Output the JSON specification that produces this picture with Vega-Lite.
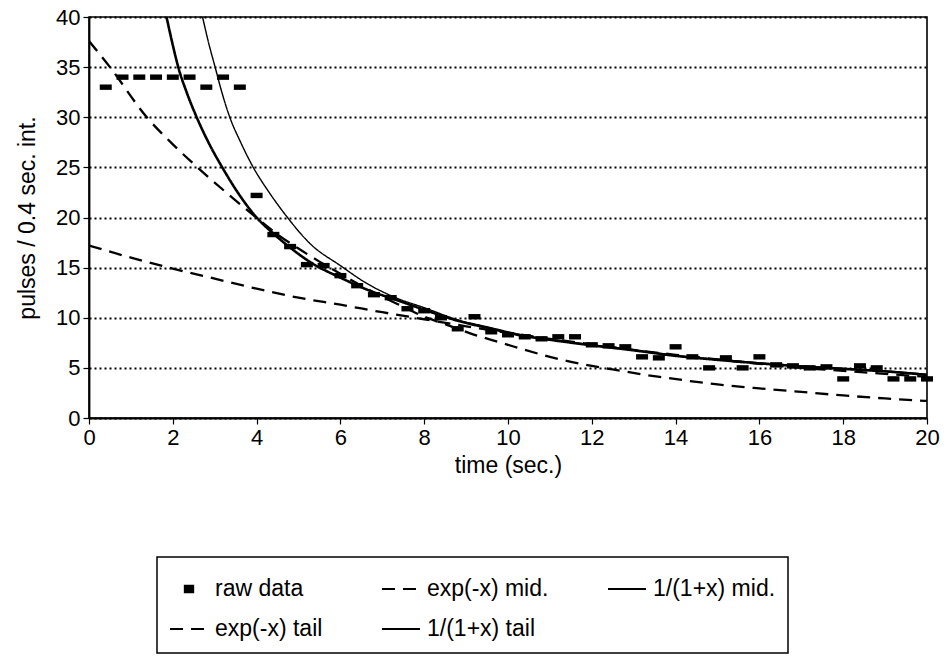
{
  "$schema": "https://vega.github.io/schema/vega-lite/v6.json",
  "width": 838,
  "height": 401,
  "autosize": {"type": "none"},
  "padding": {"left": 89, "top": 17, "right": 21, "bottom": 239},
  "background": "white",
  "config": {
    "font": "Liberation Sans",
    "view": {"stroke": "black", "strokeWidth": 1.6},
    "axis": {
      "domainColor": "black", "domainWidth": 1.8, "tickColor": "black", "tickWidth": 1.2,
      "labelColor": "black", "titleColor": "black", "labelFont": "Liberation Sans", "titleFont": "Liberation Sans",
      "labelFontSize": 22, "titleFontSize": 23, "titleFontWeight": "normal"
    }
  },
  "datasets": {
    "curves": [
      {"series": "exp(-x) mid.", "t": 0, "v": 37.6},
      {"series": "exp(-x) mid.", "t": 0.5, "v": 35.0},
      {"series": "exp(-x) mid.", "t": 1.38, "v": 30.0},
      {"series": "exp(-x) mid.", "t": 2.0, "v": 27.3},
      {"series": "exp(-x) mid.", "t": 2.59, "v": 25.0},
      {"series": "exp(-x) mid.", "t": 3.3, "v": 22.4},
      {"series": "exp(-x) mid.", "t": 3.99, "v": 20.0},
      {"series": "exp(-x) mid.", "t": 4.5, "v": 18.3},
      {"series": "exp(-x) mid.", "t": 5.0, "v": 16.9},
      {"series": "exp(-x) mid.", "t": 5.5, "v": 15.6},
      {"series": "exp(-x) mid.", "t": 6.0, "v": 14.4},
      {"series": "exp(-x) mid.", "t": 6.5, "v": 13.2},
      {"series": "exp(-x) mid.", "t": 7.0, "v": 12.1},
      {"series": "exp(-x) mid.", "t": 7.5, "v": 11.1},
      {"series": "exp(-x) mid.", "t": 8.0, "v": 10.1},
      {"series": "exp(-x) mid.", "t": 8.4, "v": 9.5},
      {"series": "exp(-x) mid.", "t": 8.8, "v": 8.9},
      {"series": "exp(-x) mid.", "t": 9.2, "v": 8.3},
      {"series": "exp(-x) mid.", "t": 9.6, "v": 7.8},
      {"series": "exp(-x) mid.", "t": 10.0, "v": 7.3},
      {"series": "exp(-x) mid.", "t": 10.4, "v": 6.8},
      {"series": "exp(-x) mid.", "t": 11.0, "v": 6.1},
      {"series": "exp(-x) mid.", "t": 11.4, "v": 5.7},
      {"series": "exp(-x) mid.", "t": 12.0, "v": 5.2},
      {"series": "exp(-x) mid.", "t": 12.7, "v": 4.7},
      {"series": "exp(-x) mid.", "t": 13.2, "v": 4.35},
      {"series": "exp(-x) mid.", "t": 13.8, "v": 4.0},
      {"series": "exp(-x) mid.", "t": 14.5, "v": 3.6},
      {"series": "exp(-x) mid.", "t": 15.0, "v": 3.35},
      {"series": "exp(-x) mid.", "t": 16.0, "v": 2.95},
      {"series": "exp(-x) mid.", "t": 17.0, "v": 2.6},
      {"series": "exp(-x) mid.", "t": 18.0, "v": 2.25},
      {"series": "exp(-x) mid.", "t": 19.0, "v": 1.95},
      {"series": "exp(-x) mid.", "t": 20.0, "v": 1.7},

      {"series": "exp(-x) tail", "t": 0, "v": 17.2},
      {"series": "exp(-x) tail", "t": 1, "v": 16.0},
      {"series": "exp(-x) tail", "t": 2, "v": 14.9},
      {"series": "exp(-x) tail", "t": 3, "v": 13.9},
      {"series": "exp(-x) tail", "t": 4, "v": 12.9},
      {"series": "exp(-x) tail", "t": 5, "v": 12.0},
      {"series": "exp(-x) tail", "t": 6, "v": 11.3},
      {"series": "exp(-x) tail", "t": 7, "v": 10.55},
      {"series": "exp(-x) tail", "t": 8, "v": 9.85},
      {"series": "exp(-x) tail", "t": 9, "v": 9.15},
      {"series": "exp(-x) tail", "t": 10, "v": 8.5},
      {"series": "exp(-x) tail", "t": 11, "v": 7.9},
      {"series": "exp(-x) tail", "t": 12, "v": 7.35},
      {"series": "exp(-x) tail", "t": 13, "v": 6.8},
      {"series": "exp(-x) tail", "t": 14, "v": 6.3},
      {"series": "exp(-x) tail", "t": 15, "v": 5.85},
      {"series": "exp(-x) tail", "t": 16, "v": 5.4},
      {"series": "exp(-x) tail", "t": 17, "v": 5.0},
      {"series": "exp(-x) tail", "t": 18, "v": 4.7},
      {"series": "exp(-x) tail", "t": 19, "v": 4.4},
      {"series": "exp(-x) tail", "t": 20, "v": 4.1},

      {"series": "1/(1+x) mid.", "t": 1.85, "v": 40},
      {"series": "1/(1+x) mid.", "t": 2.0, "v": 37.2},
      {"series": "1/(1+x) mid.", "t": 2.13, "v": 35},
      {"series": "1/(1+x) mid.", "t": 2.33, "v": 32.5},
      {"series": "1/(1+x) mid.", "t": 2.57, "v": 30},
      {"series": "1/(1+x) mid.", "t": 2.85, "v": 27.5},
      {"series": "1/(1+x) mid.", "t": 3.18, "v": 25},
      {"series": "1/(1+x) mid.", "t": 3.55, "v": 22.5},
      {"series": "1/(1+x) mid.", "t": 4.0, "v": 20},
      {"series": "1/(1+x) mid.", "t": 4.4, "v": 18.4},
      {"series": "1/(1+x) mid.", "t": 4.8, "v": 17.0},
      {"series": "1/(1+x) mid.", "t": 5.3, "v": 15.5},
      {"series": "1/(1+x) mid.", "t": 6.0, "v": 14.0},
      {"series": "1/(1+x) mid.", "t": 6.7, "v": 12.7},
      {"series": "1/(1+x) mid.", "t": 7.32, "v": 11.8},
      {"series": "1/(1+x) mid.", "t": 8.0, "v": 10.8},
      {"series": "1/(1+x) mid.", "t": 8.8, "v": 9.7},
      {"series": "1/(1+x) mid.", "t": 9.6, "v": 8.9},
      {"series": "1/(1+x) mid.", "t": 10.0, "v": 8.5},
      {"series": "1/(1+x) mid.", "t": 10.5, "v": 8.1},
      {"series": "1/(1+x) mid.", "t": 11.0, "v": 7.8},
      {"series": "1/(1+x) mid.", "t": 12.0, "v": 7.25},
      {"series": "1/(1+x) mid.", "t": 13.0, "v": 6.75},
      {"series": "1/(1+x) mid.", "t": 14.0, "v": 6.2},
      {"series": "1/(1+x) mid.", "t": 15.0, "v": 5.8},
      {"series": "1/(1+x) mid.", "t": 16.0, "v": 5.45},
      {"series": "1/(1+x) mid.", "t": 17.0, "v": 5.15},
      {"series": "1/(1+x) mid.", "t": 18.0, "v": 4.9},
      {"series": "1/(1+x) mid.", "t": 19.0, "v": 4.65},
      {"series": "1/(1+x) mid.", "t": 20.0, "v": 4.3},

      {"series": "1/(1+x) tail", "t": 2.71, "v": 40},
      {"series": "1/(1+x) tail", "t": 2.85, "v": 37.5},
      {"series": "1/(1+x) tail", "t": 3.01, "v": 35},
      {"series": "1/(1+x) tail", "t": 3.17, "v": 32.5},
      {"series": "1/(1+x) tail", "t": 3.36, "v": 30},
      {"series": "1/(1+x) tail", "t": 3.62, "v": 27.5},
      {"series": "1/(1+x) tail", "t": 3.92, "v": 25},
      {"series": "1/(1+x) tail", "t": 4.3, "v": 22.5},
      {"series": "1/(1+x) tail", "t": 4.7, "v": 20.2},
      {"series": "1/(1+x) tail", "t": 5.3, "v": 17.3},
      {"series": "1/(1+x) tail", "t": 6.0, "v": 15.2},
      {"series": "1/(1+x) tail", "t": 6.6, "v": 13.5},
      {"series": "1/(1+x) tail", "t": 7.32, "v": 12.0},
      {"series": "1/(1+x) tail", "t": 8.0, "v": 11.0},
      {"series": "1/(1+x) tail", "t": 8.8, "v": 9.8},
      {"series": "1/(1+x) tail", "t": 9.6, "v": 9.0},
      {"series": "1/(1+x) tail", "t": 10.0, "v": 8.6},
      {"series": "1/(1+x) tail", "t": 10.5, "v": 8.15},
      {"series": "1/(1+x) tail", "t": 11.0, "v": 7.85},
      {"series": "1/(1+x) tail", "t": 12.0, "v": 7.3},
      {"series": "1/(1+x) tail", "t": 13.0, "v": 6.8},
      {"series": "1/(1+x) tail", "t": 14.0, "v": 6.25},
      {"series": "1/(1+x) tail", "t": 15.0, "v": 5.85},
      {"series": "1/(1+x) tail", "t": 16.0, "v": 5.5},
      {"series": "1/(1+x) tail", "t": 17.0, "v": 5.2},
      {"series": "1/(1+x) tail", "t": 18.0, "v": 4.95},
      {"series": "1/(1+x) tail", "t": 19.0, "v": 4.7},
      {"series": "1/(1+x) tail", "t": 20.0, "v": 4.35}
    ],
    "raw": [
      {"t": 0.4, "v": 33}, {"t": 0.8, "v": 34}, {"t": 1.2, "v": 34}, {"t": 1.6, "v": 34},
      {"t": 2.0, "v": 34}, {"t": 2.4, "v": 34}, {"t": 2.8, "v": 33}, {"t": 3.2, "v": 34},
      {"t": 3.6, "v": 33}, {"t": 4.0, "v": 22.2}, {"t": 4.4, "v": 18.3}, {"t": 4.8, "v": 17.1},
      {"t": 5.2, "v": 15.3}, {"t": 5.6, "v": 15.2}, {"t": 6.0, "v": 14.2}, {"t": 6.4, "v": 13.2},
      {"t": 6.8, "v": 12.3}, {"t": 7.2, "v": 12.0}, {"t": 7.6, "v": 10.9}, {"t": 8.0, "v": 10.7},
      {"t": 8.4, "v": 10.0}, {"t": 8.8, "v": 8.9}, {"t": 9.2, "v": 10.1}, {"t": 9.6, "v": 8.6},
      {"t": 10.0, "v": 8.3}, {"t": 10.4, "v": 8.1}, {"t": 10.8, "v": 7.9}, {"t": 11.2, "v": 8.1},
      {"t": 11.6, "v": 8.1}, {"t": 12.0, "v": 7.3}, {"t": 12.4, "v": 7.2}, {"t": 12.8, "v": 7.1},
      {"t": 13.2, "v": 6.1}, {"t": 13.6, "v": 6.0}, {"t": 14.0, "v": 7.1}, {"t": 14.4, "v": 6.1},
      {"t": 14.8, "v": 5.0}, {"t": 15.2, "v": 6.0}, {"t": 15.6, "v": 5.0}, {"t": 16.0, "v": 6.1},
      {"t": 16.4, "v": 5.3}, {"t": 16.8, "v": 5.2}, {"t": 17.2, "v": 5.0}, {"t": 17.6, "v": 5.1},
      {"t": 18.0, "v": 3.9}, {"t": 18.4, "v": 5.2}, {"t": 18.8, "v": 5.0}, {"t": 19.2, "v": 3.9},
      {"t": 19.6, "v": 3.9}, {"t": 20.0, "v": 3.9}
    ]
  },
  "encoding": {
    "x": {
      "field": "t", "type": "quantitative",
      "scale": {"domain": [0, 20], "nice": false},
      "axis": {"values": [0, 2, 4, 6, 8, 10, 12, 14, 16, 18, 20], "grid": false, "tickSize": 6, "labelPadding": 3, "labelFlush": false, "title": "time (sec.)", "titlePadding": 6}
    },
    "y": {
      "field": "v", "type": "quantitative",
      "scale": {"domain": [0, 40], "nice": false},
      "axis": {"values": [0, 5, 10, 15, 20, 25, 30, 35, 40], "grid": true, "gridDash": [2, 3], "gridWidth": 2, "gridColor": "black", "gridOpacity": 1, "tickSize": 6, "labelPadding": 3, "title": "pulses / 0.4 sec. int.", "titlePadding": 16}
    }
  },
  "layer": [
    {
      "data": {"name": "curves"},
      "transform": [{"filter": "datum.series === 'exp(-x) mid.' || datum.series === 'exp(-x) tail'"}],
      "mark": {"type": "line", "interpolate": "monotone", "clip": true, "color": "black", "strokeWidth": 2.3},
      "encoding": {
        "detail": {"field": "series"},
        "strokeDash": {
          "field": "series", "type": "nominal",
          "scale": {
            "domain": ["raw data", "exp(-x) mid.", "1/(1+x) mid.", "exp(-x) tail", "1/(1+x) tail"],
            "range": [[1, 0], [13, 8], [1, 0], [13, 8], [1, 0]]
          },
          "legend": {
            "title": null, "orient": "none", "legendX": 68, "legendY": 540,
            "direction": "horizontal", "columns": 3, "strokeColor": "black", "padding": 12,
            "symbolType": "stroke", "symbolSize": 1444, "symbolStrokeWidth": 2, "symbolStrokeColor": "black",
            "labelFontSize": 23, "labelFont": "Liberation Sans", "labelColor": "black", "labelOffset": 6, "labelLimit": 400,
            "columnPadding": 55, "rowPadding": 8,
            "encode": {
              "legend": {"update": {"strokeWidth": {"value": 1.5}}},
              "symbols": {
                "update": {
                  "shape": {"signal": "datum.value === 'raw data' ? 'M-0.22,-0.17H0.22V0.17H-0.22Z' : 'stroke'"},
                  "fill": {"signal": "datum.value === 'raw data' ? 'black' : 'transparent'"},
                  "stroke": {"value": "black"},
                  "strokeWidth": {"value": 2},
                  "opacity": {"value": 1},
                  "strokeOpacity": {"value": 1},
                  "strokeDash": {"signal": "(datum.value === 'exp(-x) mid.' || datum.value === 'exp(-x) tail') ? [5, 3] : [1, 0]"}
                }
              }
            }
          }
        }
      }
    },
    {
      "data": {"name": "curves"},
      "transform": [{"filter": "datum.series === '1/(1+x) mid.'"}],
      "mark": {"type": "line", "interpolate": "monotone", "clip": true, "color": "black", "strokeWidth": 2.6},
      "encoding": {
        "strokeDash": {
          "field": "series", "type": "nominal",
          "scale": {
            "domain": ["raw data", "exp(-x) mid.", "1/(1+x) mid.", "exp(-x) tail", "1/(1+x) tail"],
            "range": [[1, 0], [13, 8], [1, 0], [13, 8], [1, 0]]
          }
        }
      }
    },
    {
      "data": {"name": "curves"},
      "transform": [{"filter": "datum.series === '1/(1+x) tail'"}],
      "mark": {"type": "line", "interpolate": "monotone", "clip": true, "color": "black", "strokeWidth": 1.4},
      "encoding": {
        "strokeDash": {
          "field": "series", "type": "nominal",
          "scale": {
            "domain": ["raw data", "exp(-x) mid.", "1/(1+x) mid.", "exp(-x) tail", "1/(1+x) tail"],
            "range": [[1, 0], [13, 8], [1, 0], [13, 8], [1, 0]]
          }
        }
      }
    },
    {
      "data": {"name": "raw"},
      "mark": {"type": "point", "shape": "M-1,-0.45H1V0.45H-1Z", "filled": true, "color": "black", "size": 144, "opacity": 1}
    }
  ]
}
